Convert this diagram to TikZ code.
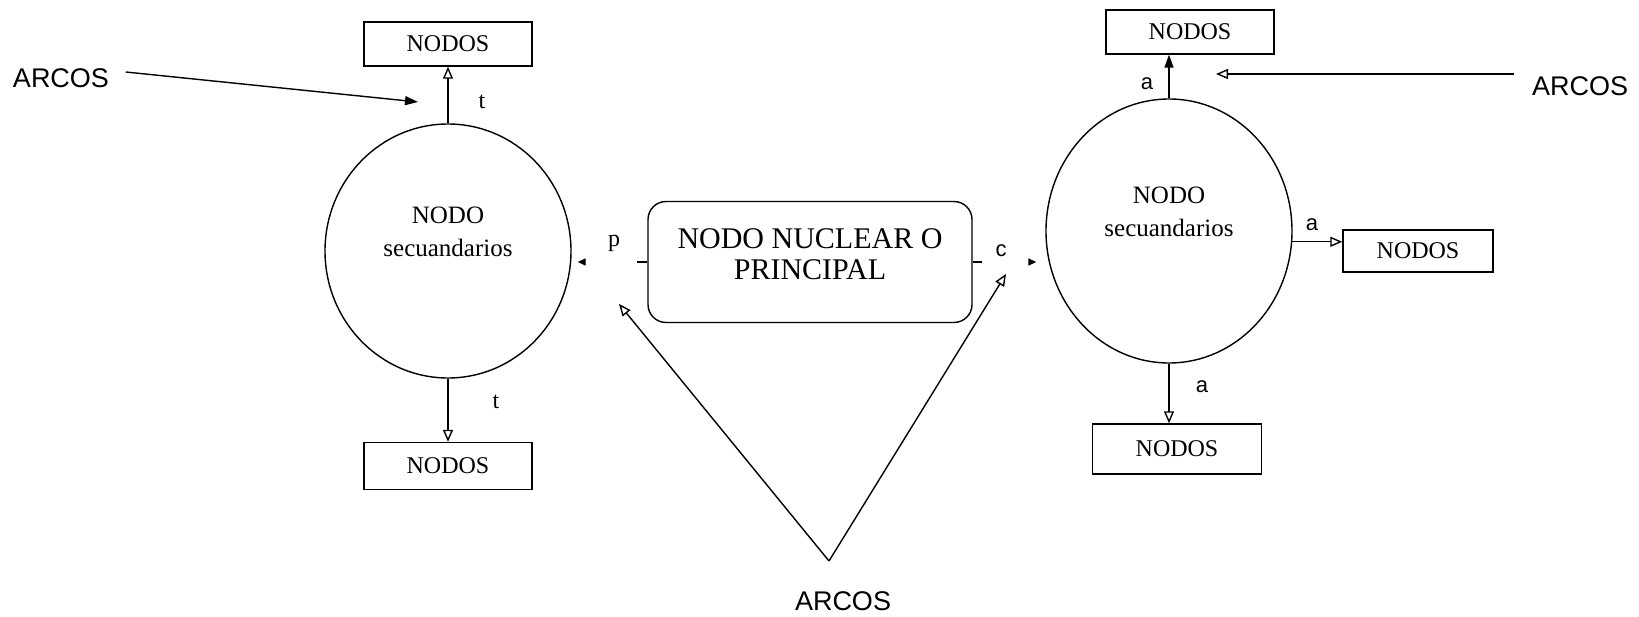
\documentclass[tikz,border=0pt]{standalone}
\usepackage{fontspec}
\setmainfont{Liberation Serif}
\setsansfont{Liberation Sans}
\usetikzlibrary{arrows.meta,shapes.geometric}
\begin{document}
\begin{tikzpicture}[x=1pt,y=-1pt,
  line width=1.4pt,
  nodobox/.style={draw, rectangle, inner sep=0pt, font=\fontsize{24}{28}\selectfont},
  secnode/.style={draw, ellipse, inner sep=0pt, align=center, font=\fontsize{25}{33}\selectfont},
  nucbox/.style={draw, rounded corners=18pt, inner sep=0pt, align=center, minimum width=324pt, minimum height=121pt, font=\fontsize{30}{31}\selectfont},
  arcos/.style={font=\sffamily\fontsize{27}{30}\selectfont, inner sep=0pt},
  lbl/.style={font=\fontsize{24}{26}\selectfont, inner sep=0pt},
  lbls/.style={font=\sffamily\fontsize{22}{24}\selectfont, inner sep=0pt},
  openarr/.style={-{Triangle[open,length=12pt,width=10pt]}},
  fillarr/.style={-{Triangle[length=13pt,width=9pt]}},
  smallarr/.style={-{Triangle[length=8pt,width=7pt]}},
]
\useasboundingbox (0,0) rectangle (1639,617);

% secondary nodes
\node[secnode, minimum width=246pt, minimum height=254pt] (L) at (448,251) {NODO\\secuandarios\\[5pt]\mbox{}};
\node[secnode, minimum width=246pt, minimum height=264pt] (R) at (1169,231) {NODO\\secuandarios\\[5pt]\mbox{}};

% central node
\node[nucbox] (C) at (810,262) {NODO NUCLEAR O\\PRINCIPAL\\[-16pt]\mbox{}};

% NODOS boxes
\node[nodobox, minimum width=168pt, minimum height=44pt] (TL) at (448,44) {NODOS};
\node[nodobox, minimum width=168pt, minimum height=47pt] (BL) at (448,466) {NODOS};
\node[nodobox, minimum width=168pt, minimum height=44pt] (TR) at (1190,32) {NODOS};
\node[nodobox, minimum width=150pt, minimum height=42pt] (RR) at (1418,251) {NODOS};
\node[nodobox, minimum width=169pt, minimum height=50pt] (BR) at (1177,449) {NODOS};

% ARCOS texts
\node[arcos] (AL) at (61,78) {ARCOS};
\node[arcos] (AR) at (1580,86) {ARCOS};
\node[arcos] (AB) at (843,601) {ARCOS};

% free ends
\coordinate (al1) at (418,102);
\coordinate (ar1) at (1216,74);
\coordinate (apex) at (829,561);
\coordinate (ab1) at (619,304);
\coordinate (ab2) at (1006,274);

% arcs left
\draw[openarr] (L.north) -- (TL.south);
\draw[openarr] (L.south) -- (BL.north);
\node[lbl] (t1) at (482,102) {t};
\node[lbl] (t2) at (496,402) {t};

% arcs right
\draw[fillarr] (R.north) -- (R.north |- TR.south);
\draw[openarr] (R.-5) -- (R.-5 -| RR.west);
\draw[openarr] (R.south) -- (R.south |- BR.north);
\node[lbls] (a1) at (1147,84) {a};
\node[lbls] (a2) at (1312,225) {a};
\node[lbls] (a3) at (1202,387) {a};

% arcs from the nuclear node
\draw[smallarr, dash pattern=on 10pt off 300pt, shorten >=6pt] (C.west) -- (C.west -| L.east);
\draw[smallarr, dash pattern=on 9pt off 300pt, shorten >=9pt] (C.east) -- (C.east -| R.west);
\node[lbl] (p) at (614,243) {p};
\node[lbls] (c) at (1001,251) {c};

% ARCOS pointers
\draw[fillarr] ([yshift=6pt]AL.east) ++(16,0) -- (al1);
\draw[openarr] ([yshift=12pt]AR.west) ++(-17,0) -- (ar1);
\draw[openarr] (apex) -- (ab1);
\draw[openarr] (apex) -- (ab2);
\end{tikzpicture}
\end{document}
